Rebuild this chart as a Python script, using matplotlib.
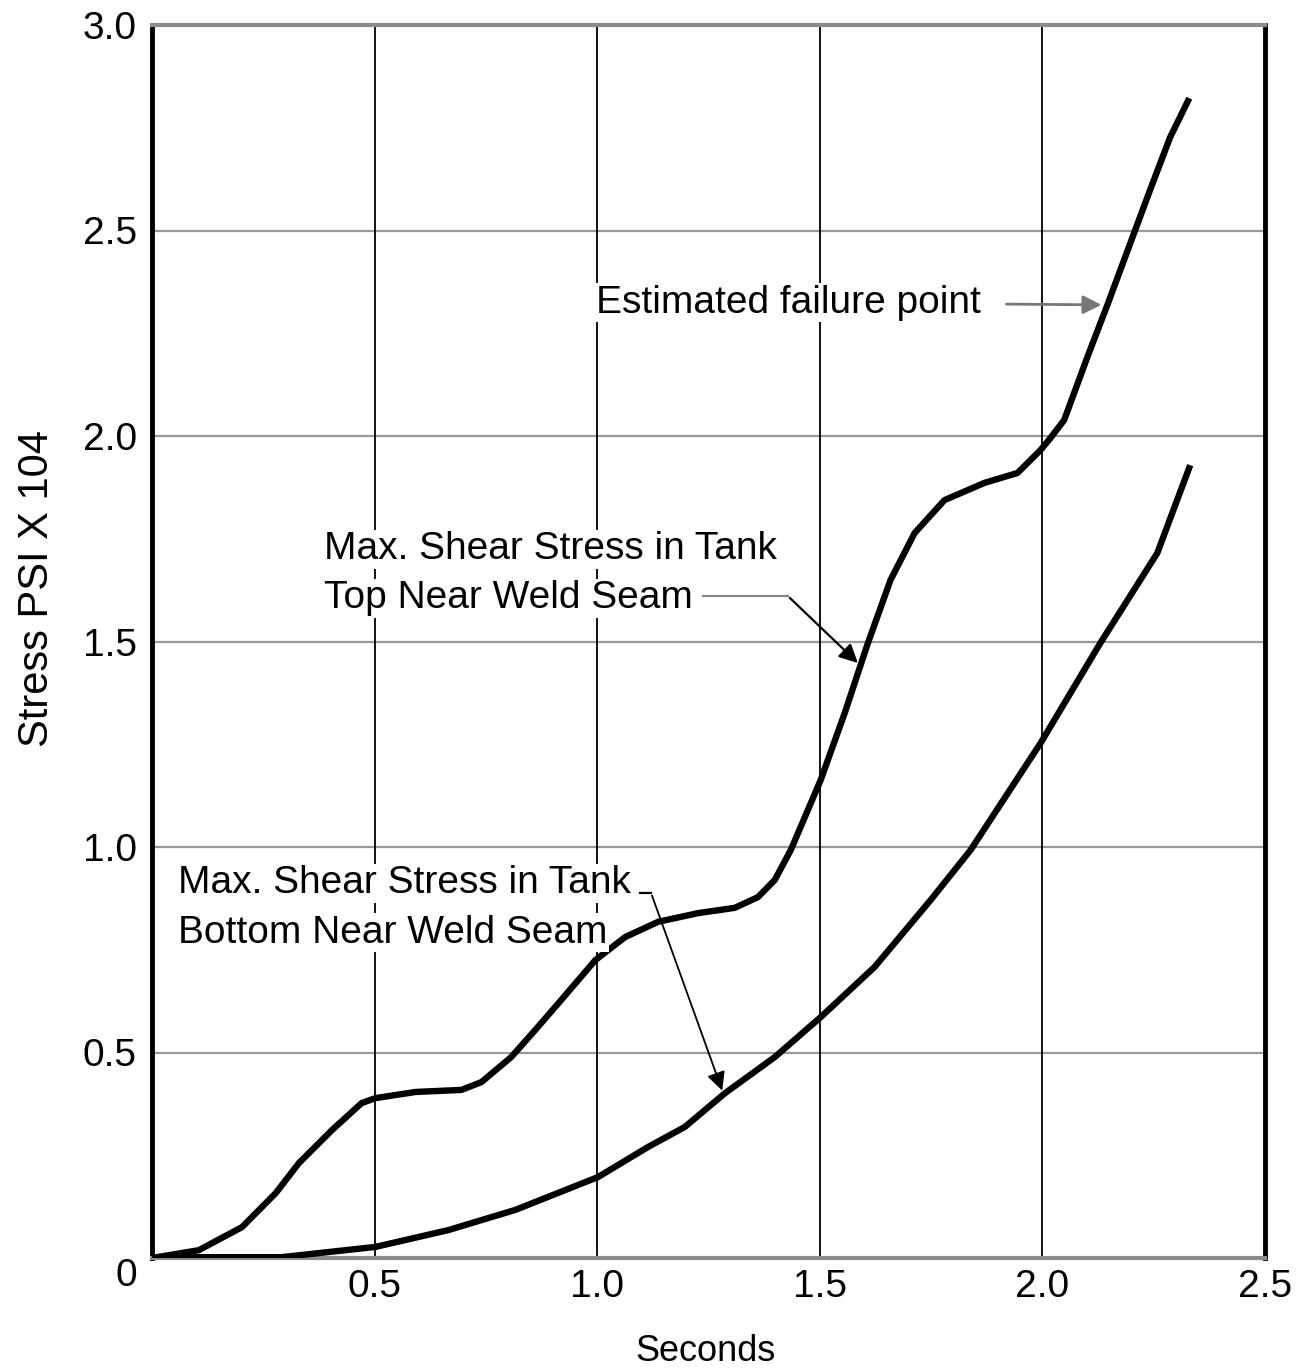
import matplotlib
matplotlib.use('Agg')
import matplotlib.pyplot as plt

# top curve: max shear stress in tank top near weld seam
top_t = [0.0, 0.105, 0.202, 0.278, 0.330, 0.404, 0.471, 0.502, 0.592, 0.695,
         0.740, 0.807, 0.861, 0.913, 0.996, 1.063, 1.137, 1.226, 1.309, 1.361,
         1.399, 1.435, 1.502, 1.556, 1.608, 1.659, 1.713, 1.780, 1.870, 1.944,
         1.996, 2.018, 2.049, 2.101, 2.146, 2.206, 2.242, 2.287, 2.330]
top_s = [0.0, 0.019, 0.075, 0.158, 0.231, 0.311, 0.377, 0.389, 0.404, 0.409,
         0.428, 0.489, 0.555, 0.620, 0.725, 0.781, 0.818, 0.839, 0.852, 0.878,
         0.920, 0.993, 1.163, 1.326, 1.496, 1.650, 1.764, 1.844, 1.886, 1.910,
         1.966, 1.995, 2.039, 2.192, 2.319, 2.494, 2.599, 2.727, 2.822]

# bottom curve: max shear stress in tank bottom near weld seam
bot_t = [0.0, 0.105, 0.291, 0.502, 0.666, 0.816, 1.002, 1.114, 1.197, 1.287,
         1.399, 1.502, 1.623, 1.749, 1.839, 1.996, 2.130, 2.258, 2.332]
bot_s = [0.0, 0.002, 0.002, 0.027, 0.068, 0.117, 0.197, 0.270, 0.319, 0.401,
         0.489, 0.586, 0.708, 0.871, 0.993, 1.253, 1.496, 1.715, 1.929]

xticks = [0.5, 1.0, 1.5, 2.0, 2.5]
xlabels = ['0.5', '1.0', '1.5', '2.0', '2.5']
yticks = [0, 0.5, 1.0, 1.5, 2.0, 2.5, 3.0]
ylabels = ['0', '0.5', '1.0', '1.5', '2.0', '2.5', '3.0']

plt.rcParams['font.family'] = ['Liberation Sans', 'DejaVu Sans']

fig = plt.figure(figsize=(13.02, 13.70), dpi=100)
ax = fig.add_axes([152 / 1302, 1 - 1258 / 1370, (1265 - 152) / 1302, (1258 - 25) / 1370])

ax.set_xlim(0, 2.5)
ax.set_ylim(0, 3.0)

# grid: grey horizontals, thin black verticals
for y in yticks[1:-1]:
    ax.axhline(y, color='#999999', lw=1.6, zorder=1)
for x in xticks[:-1]:
    ax.axvline(x, color='black', lw=1.3, zorder=1)

ax.plot(top_t, top_s, color='black', lw=4.6, solid_capstyle='butt', solid_joinstyle='round', zorder=3)
ax.plot(bot_t, bot_s, color='black', lw=4.6, solid_capstyle='butt', solid_joinstyle='round', zorder=3)

for side in ['left', 'right']:
    ax.spines[side].set_color('black')
    ax.spines[side].set_linewidth(3.5)
for side in ['top', 'bottom']:
    ax.spines[side].set_color('#8c8c8c')
    ax.spines[side].set_linewidth(3)

ax.set_xticks(xticks)
ax.set_xticklabels(xlabels)
ax.set_yticks(yticks)
ax.set_yticklabels(ylabels)
ax.tick_params(axis='both', length=0, labelsize=28)
ax.tick_params(axis='x', pad=8)
ax.tick_params(axis='y', pad=11)
ax.get_yticklabels()[0].set_va('top')

ax.set_xlabel('Seconds', fontsize=26)
ax.xaxis.set_label_coords(0.497, -0.062)
ax.set_ylabel('Stress PSI X 104', fontsize=30)
ax.yaxis.set_label_coords(-0.085, 0.543)

box = dict(facecolor='white', edgecolor='none', pad=1)

# estimated failure point
ax.text(0.998, 2.324, 'Estimated failure point', fontsize=28, ha='left', va='center',
        bbox=box, zorder=4)
ax.annotate('', xy=(2.139, 2.319), xytext=(1.913, 2.321),
            arrowprops=dict(arrowstyle='-|>', color='#777777', lw=2, mutation_scale=28),
            zorder=4)

# top curve label
ax.text(0.386, 1.724, 'Max. Shear Stress in Tank', fontsize=28,
        ha='left', va='center', bbox=box, zorder=4)
ax.text(0.386, 1.605, 'Top Near Weld Seam', fontsize=28,
        ha='left', va='center', bbox=box, zorder=4)
ax.plot([1.238, 1.428], [1.611, 1.611], color='#888888', lw=1.6, zorder=5)
ax.annotate('', xy=(1.590, 1.443), xytext=(1.428, 1.611),
            arrowprops=dict(arrowstyle='-|>', color='black', lw=1.6, mutation_scale=28),
            zorder=5)

# bottom curve label
ax.text(0.058, 0.912, 'Max. Shear Stress in Tank', fontsize=28,
        ha='left', va='center', bbox=box, zorder=4)
ax.text(0.058, 0.791, 'Bottom Near Weld Seam', fontsize=28,
        ha='left', va='center', bbox=box, zorder=4)
ax.plot([1.096, 1.121], [0.888, 0.888], color='black', lw=1.6, zorder=5)
ax.annotate('', xy=(1.283, 0.401), xytext=(1.121, 0.888),
            arrowprops=dict(arrowstyle='-|>', color='black', lw=1.3, mutation_scale=28),
            zorder=5)

plt.savefig('out.png', dpi=100)
